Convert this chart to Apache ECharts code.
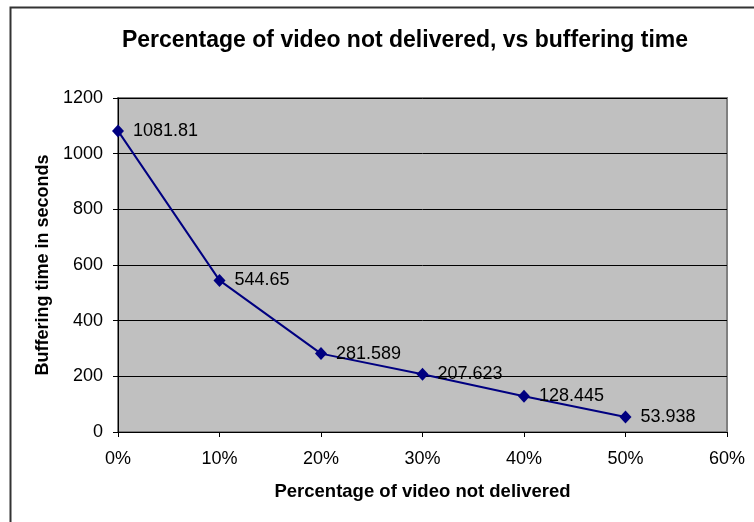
<!DOCTYPE html>
<html>
<head>
<meta charset="utf-8">
<script src="https://cdn.jsdelivr.net/npm/echarts@6/dist/echarts.min.js"></script>
<style>html,body{margin:0;padding:0;background:#fff;}#c{width:754px;height:522px;}</style>
</head>
<body>
<div id="c"></div>
<script>
const titleText = 'Percentage of video not delivered, vs buffering time';
const xName = 'Percentage of video not delivered';
const yName = 'Buffering time in seconds';
const pctNotDelivered = [0, 10, 20, 30, 40, 50];
const bufferingSeconds = [1081.81, 544.65, 281.589, 207.623, 128.445, 53.938];
const xTicks = { min: 0, max: 60, interval: 10 };
const yTicks = { min: 0, max: 1200, interval: 200 };

const FONT = 'Liberation Sans, Arial, sans-serif';
const chart = echarts.init(document.getElementById('c'), null, { renderer: 'canvas' });
chart.setOption({
  animation: false,
  backgroundColor: '#fff',
  title: {
    text: titleText, left: 400, top: 24, textAlign: 'center',
    textStyle: { fontFamily: FONT, fontSize: 23, fontWeight: 'bold', color: '#000' }
  },
  graphic: [{
    type: 'rect', left: 8, top: 5, silent: true, z: -10,
    shape: { x: 0, y: 0, width: 900, height: 700 },
    style: { fill: 'none', stroke: '#333', lineWidth: 2 }
  }],
  grid: { left: 118, top: 98, right: 27, bottom: 90, show: true, backgroundColor: '#C0C0C0', borderColor: '#808080', borderWidth: 2 },
  xAxis: {
    type: 'value', min: xTicks.min, max: xTicks.max, interval: xTicks.interval,
    name: xName, nameLocation: 'middle', nameGap: 50,
    nameTextStyle: { fontFamily: FONT, fontSize: 18.5, fontWeight: 'bold', color: '#000' },
    axisLine: { show: true, lineStyle: { color: '#000', width: 1 } },
    axisTick: { show: true, length: 5, inside: false, lineStyle: { color: '#000' } },
    axisLabel: { formatter: '{value}%', margin: 18, fontFamily: FONT, fontSize: 18, color: '#000' },
    splitLine: { show: false }
  },
  yAxis: {
    type: 'value', min: yTicks.min, max: yTicks.max, interval: yTicks.interval,
    name: yName, nameLocation: 'middle', nameGap: 63,
    nameTextStyle: { fontFamily: FONT, fontSize: 18, fontWeight: 'bold', color: '#000' },
    axisLine: { show: true, lineStyle: { color: '#000', width: 1 } },
    axisTick: { show: true, length: 5, lineStyle: { color: '#000' } },
    axisLabel: { formatter: v => String(v), margin: 15, fontFamily: FONT, fontSize: 18, color: '#000' },
    splitLine: { show: true, lineStyle: { color: '#000', width: 1 } }
  },
  series: [{
    type: 'line',
    data: pctNotDelivered.map((x, i) => [x, bufferingSeconds[i]]),
    symbol: 'diamond', symbolSize: [12, 13],
    itemStyle: { color: '#000080' },
    lineStyle: { color: '#000080', width: 2 },
    label: {
      show: true, position: 'right', distance: 9,
      formatter: p => String(p.value[1]),
      fontFamily: FONT, fontSize: 18, color: '#000'
    }
  }]
});
</script>
</body>
</html>
